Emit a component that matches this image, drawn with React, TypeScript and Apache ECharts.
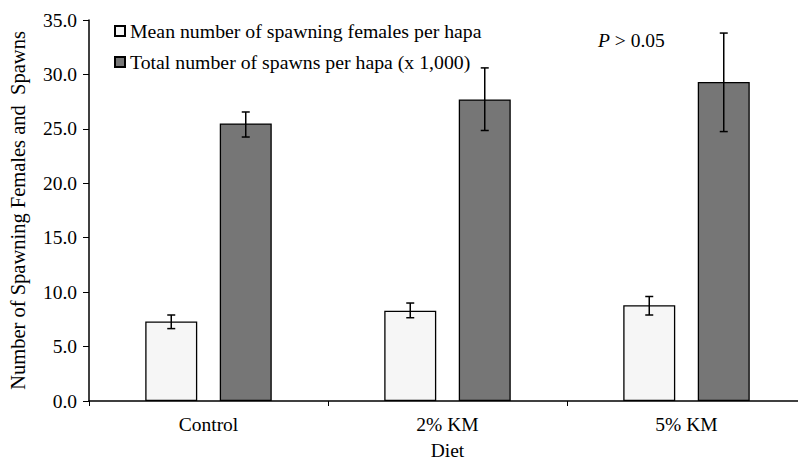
import React, { useEffect, useRef } from "react";
import * as echarts from "echarts";

const categories = ["Control", "2% KM", "5% KM"];
const femalesMean = [7.3, 8.3, 8.8];
const femalesLow = [6.65, 7.65, 7.9];
const femalesHigh = [7.9, 9.0, 9.6];
const spawnsMean = [25.5, 27.7, 29.3];
const spawnsLow = [24.25, 24.85, 24.75];
const spawnsHigh = [26.55, 30.6, 33.8];
const seriesNames = [
  "Mean number of spawning females per hapa",
  "Total number of spawns per hapa (x 1,000)",
];
const yTicks = { min: 0, max: 35, interval: 5 };

const FONT = "'Liberation Serif', 'Times New Roman', serif";
const FS = 19.5;
const BAR_W = 52;
const BAR_GAP = 22.5;
const OFFSET = (BAR_W + BAR_GAP) / 2;

export default function App() {
  const ref = useRef<HTMLDivElement>(null);
  useEffect(() => {
    if (!ref.current) return;
    const chart = echarts.init(ref.current, undefined, { renderer: "svg" });
    const errRender = (offset: number, low: number[], high: number[]) =>
      (params: any, api: any) => {
        const i = api.value(0);
        const lo = api.coord([i, low[i]]);
        const hi = api.coord([i, high[i]]);
        const x = lo[0] + offset;
        const cap = 4;
        const style = { stroke: "#000", lineWidth: 1.5 };
        return {
          type: "group",
          children: [
            { type: "line", shape: { x1: x, y1: lo[1], x2: x, y2: hi[1] }, style },
            { type: "line", shape: { x1: x - cap, y1: lo[1], x2: x + cap, y2: lo[1] }, style },
            { type: "line", shape: { x1: x - cap, y1: hi[1], x2: x + cap, y2: hi[1] }, style },
          ],
        };
      };
    chart.setOption({
      animation: false,
      backgroundColor: "#ffffff",
      textStyle: { fontFamily: FONT, color: "#000" },
      grid: {
        left: 89,
        top: 20,
        height: 381,
        width: 717,
        containLabel: false,
        outerBoundsMode: "none",
      },
      legend: {
        orient: "vertical",
        left: 109,
        top: 16,
        itemWidth: 10,
        itemHeight: 10,
        itemGap: 11,
        icon: "rect",
        data: seriesNames,
        textStyle: { fontFamily: FONT, fontSize: 19.8, color: "#000", lineHeight: 20 },
      },
      xAxis: {
        type: "category",
        data: categories,
        name: "Diet",
        nameLocation: "middle",
        nameGap: 39,
        nameTextStyle: { fontFamily: FONT, fontSize: FS, color: "#000" },
        axisLine: { lineStyle: { color: "#000", width: 1.5 } },
        axisTick: { show: true, length: 5, lineStyle: { color: "#000" } },
        axisLabel: { fontFamily: FONT, fontSize: FS, color: "#000", margin: 13 },
      },
      yAxis: {
        type: "value",
        min: yTicks.min,
        max: yTicks.max,
        interval: yTicks.interval,
        name: "Number of Spawning Females and  Spawns",
        nameLocation: "middle",
        nameGap: 61,
        nameTextStyle: { fontFamily: FONT, fontSize: 20.5, color: "#000" },
        splitLine: { show: false },
        axisLine: { show: true, lineStyle: { color: "#000", width: 1.5 } },
        axisTick: { show: true, length: 6, lineStyle: { color: "#000" } },
        axisLabel: {
          fontFamily: FONT,
          fontSize: FS,
          color: "#000",
          margin: 12,
          formatter: (v: number) => v.toFixed(1),
        },
      },
      series: [
        {
          name: seriesNames[0],
          type: "bar",
          data: femalesMean,
          barWidth: BAR_W,
          barGap: (BAR_GAP / BAR_W) * 100 + "%",
          itemStyle: { color: "#f6f6f6", borderColor: "#000", borderWidth: 1.3 },
        },
        {
          name: seriesNames[1],
          type: "bar",
          data: spawnsMean,
          barWidth: BAR_W,
          barGap: (BAR_GAP / BAR_W) * 100 + "%",
          itemStyle: { color: "#767676", borderColor: "#000", borderWidth: 1.3 },
        },
        {
          type: "custom",
          data: categories.map((_, i) => [i]),
          renderItem: errRender(-OFFSET, femalesLow, femalesHigh),
          z: 10,
          silent: true,
        },
        {
          type: "custom",
          data: categories.map((_, i) => [i]),
          renderItem: errRender(OFFSET, spawnsLow, spawnsHigh),
          z: 10,
          silent: true,
        },
      ],
      graphic: [
        {
          type: "text",
          left: 598,
          top: 30,
          style: {
            text: "{i|P} > 0.05",
            font: `${FS}px ${FONT}`,
            fill: "#000",
            rich: {
              i: { fontStyle: "italic", fontFamily: FONT, fontSize: FS, fill: "#000" },
            },
          },
        },
      ],
    });
    return () => chart.dispose();
  }, []);
  return (
    <div
      ref={ref}
      style={{ position: "fixed", left: 0, top: 0, width: 798, height: 459, background: "#fff" }}
    />
  );
}
